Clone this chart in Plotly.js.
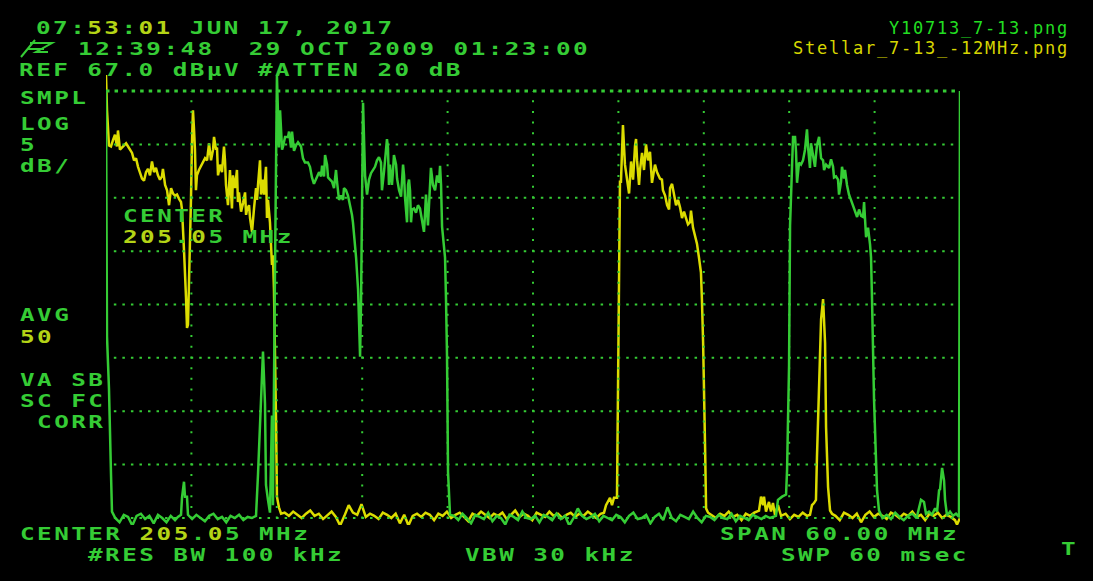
<!DOCTYPE html>
<html>
<head>
<meta charset="utf-8">
<script src="https://cdn.plot.ly/plotly-3.0.1.min.js"></script>
<style>
html,body{margin:0;padding:0;background:#000;}
#chart{width:1093px;height:581px;}
</style>
</head>
<body>
<div id="chart"></div>
<script>
// ---------- DATA (frequency MHz, level dBµV) ----------
const centerMHz = 205.05, spanMHz = 60, refLevel = 67.0, dbPerDiv = 5;
const xDivs = [181.05,187.05,193.05,199.05,205.05,211.05,217.05,223.05,229.05];
const yDivs = [62,57,52,47,42,37,32,27];

// Green trace (Y10713_7-13)
const greenEdge = [[175.05,67.0],[175.12,44.0],[175.26,39.1],[175.33,36.2],[175.40,31.2],[175.47,27.6]];
const greenNoise1 = [[175.7,27.0],[176.0,26.6],[176.3,27.3],[176.6,27.1],[176.9,26.3],[177.2,27.2],[177.5,27.4],[177.8,26.9],[178.1,27.2],[178.4,26.5],[178.7,27.3],[179.0,27.0],[179.3,26.6],[179.6,27.2],[179.9,26.8],[180.1,27.1]];
const greenBlip1 = [[180.32,27.3],[180.39,28.9],[180.53,30.4],[180.60,29.0],[180.74,29.0],[180.81,27.3]];
const greenNoise2 = [[181.1,26.9],[181.4,27.3],[181.7,27.0],[182.0,26.7],[182.3,27.2],[182.6,27.4],[182.9,26.9],[183.2,27.1],[183.5,26.6],[183.8,27.2],[184.1,27.0],[184.4,27.3],[184.7,26.8],[185.0,27.1],[185.3,27.0]];
const greenSpikes = [[185.59,27.2],[185.73,31.1],[185.94,38.7],[186.08,42.6],[186.22,37.7],[186.29,30.1],[186.43,28.7],[186.57,27.5],[186.71,36.6],[186.78,28.2],[186.92,50.0],[187.06,68.4],[187.20,61.7],[187.28,65.2],[187.42,61.5]];
const greenBandA = [[187.49,61.8],[187.63,62.7],[187.84,62.7],[187.91,63.2],[188.05,61.7],[188.12,63.2],[188.26,61.4],[188.40,61.9],[188.54,62.2],[188.75,61.8],[188.89,60.7],[189.03,60.3],[189.24,60.3],[189.38,59.9],[189.52,58.9],[189.66,58.3],[189.80,58.7],[190.02,59.4],[190.16,59.0],[190.23,60.0],[190.37,59.0],[190.44,61.0],[190.58,60.1],[190.65,58.9],[190.79,58.7],[190.93,58.5],[191.07,57.9],[191.21,59.6],[191.28,58.5],[191.42,56.8],[191.56,57.2],[191.70,56.8],[191.77,57.9],[191.91,57.7],[192.05,57.2],[192.19,56.4],[192.33,55.4],[192.40,54.7],[192.54,52.6],[192.62,51.4],[192.76,48.4],[192.83,44.6],[192.90,42.1],[192.97,47.4],[193.04,58.5],[193.11,65.9],[193.18,62.4],[193.25,59.1],[193.39,57.3],[193.53,58.7],[193.67,59.3],[193.81,59.6],[193.95,59.9],[194.09,60.5],[194.23,60.8],[194.37,60.3],[194.44,57.7],[194.58,59.4],[194.72,61.5],[194.79,62.5],[194.86,61.7],[194.93,58.2],[195.00,60.1],[195.14,58.2],[195.21,59.4],[195.28,61.0],[195.43,60.1],[195.50,58.8],[195.64,57.7],[195.78,57.1],[195.92,60.1],[195.99,59.1],[196.06,57.0],[196.20,54.7],[196.27,58.2],[196.34,58.7],[196.41,57.7],[196.48,54.7],[196.55,55.9],[196.69,56.0],[196.83,55.6],[196.97,56.3],[197.11,56.0],[197.25,54.9],[197.39,53.8],[197.46,55.4],[197.53,57.3],[197.67,54.4],[197.74,55.9],[197.88,59.8],[198.02,58.2],[198.17,57.7],[198.31,59.1],[198.45,58.4],[198.52,60.0],[198.59,58.2],[198.66,54.3],[198.80,52.6],[198.87,51.4],[198.94,47.4],[199.01,42.1],[199.08,31.3],[199.22,27.3]];
const greenNoise3 = [[199.5,27.2],[199.8,26.8],[200.1,27.4],[200.4,27.0],[200.7,26.5],[201.0,27.3],[201.3,27.1],[201.6,26.9],[201.9,27.5],[202.2,26.7],[202.5,27.2],[202.8,27.0],[203.1,26.4],[203.4,27.3],[203.7,27.1],[204.0,26.8],[204.3,27.6],[204.6,27.0],[204.9,26.9],[205.2,27.2],[205.5,26.6],[205.8,27.3],[206.1,27.1],[206.4,26.8],[206.7,27.4],[207.0,26.9],[207.3,27.2],[207.6,26.3],[207.9,27.0],[208.2,27.9],[208.5,27.2],[208.8,26.9],[209.1,27.1],[209.4,27.4],[209.7,26.7],[210.0,27.2],[210.3,27.0],[210.6,26.8],[210.9,27.3],[211.2,27.1],[211.5,26.6],[211.8,27.2],[212.1,27.5],[212.4,26.9],[212.7,27.0],[213.0,27.3],[213.3,26.5],[213.6,27.1],[213.9,27.4],[214.2,26.8],[214.5,28.0],[214.8,27.0],[215.1,26.7],[215.4,27.3],[215.7,27.1],[216.0,26.9],[216.3,27.6],[216.6,27.0],[216.9,26.6],[217.2,27.2],[217.5,27.1],[217.8,26.8],[218.1,27.3],[218.4,27.0],[218.7,26.9],[219.0,27.4],[219.3,26.7],[219.6,27.2],[219.9,27.0],[220.2,26.8],[220.5,27.3],[220.8,27.1],[221.1,26.9],[221.4,27.2],[221.7,27.0]];
const greenBandB = [[222.12,27.2],[222.26,28.7],[222.55,29.0],[222.83,29.2],[222.90,31.5],[223.04,41.3],[223.11,54.4],[223.25,61.3],[223.32,62.7],[223.46,62.7],[223.53,61.3],[223.60,58.4],[223.74,60.3],[223.88,60.1],[224.02,60.5],[224.16,61.5],[224.30,63.4],[224.37,61.8],[224.51,59.8],[224.58,62.1],[224.72,60.8],[224.86,59.9],[224.93,61.0],[225.00,61.9],[225.15,62.7],[225.29,60.7],[225.43,60.5],[225.50,59.6],[225.64,60.1],[225.85,59.8],[225.99,60.6],[226.13,59.9],[226.20,58.9],[226.34,59.0],[226.48,58.7],[226.55,57.3],[226.69,58.5],[226.76,59.9],[226.90,58.8],[226.97,59.6],[227.11,58.2],[227.25,57.3],[227.39,56.8],[227.53,56.3],[227.67,55.7],[227.82,55.2],[227.96,55.9],[228.10,55.3],[228.24,55.2],[228.31,56.6],[228.45,53.3],[228.59,54.2],[228.73,52.6],[228.80,51.4],[228.87,47.4],[229.01,38.1],[229.22,29.6],[229.36,27.7]];
const greenTail = [[229.6,27.0],[229.9,27.3],[230.2,26.9],[230.5,27.5],[230.8,27.1],[231.1,26.8],[231.4,27.2],[231.7,27.4],[232.0,27.0],[232.31,28.7],[232.52,28.5],[232.66,27.4],[232.87,27.6],[233.08,27.3],[233.30,27.9],[233.44,27.6],[233.58,29.6],[233.65,29.7],[233.79,31.7],[233.93,30.5],[234.00,28.7],[234.14,27.2],[234.35,27.6],[234.56,27.2],[234.77,27.4],[234.98,27.1],[235.05,67.0]];

// Yellow trace (Stellar_7-13_-12MHz)
const yellowBandA = [[175.05,68.5],[175.12,65.2],[175.26,61.9],[175.40,61.8],[175.54,62.4],[175.68,62.9],[175.82,61.8],[175.89,63.3],[176.03,61.5],[176.24,61.8],[176.46,62.1],[176.60,61.8],[176.74,61.5],[176.88,61.2],[177.02,60.5],[177.16,60.7],[177.30,59.9],[177.44,59.3],[177.58,58.8],[177.72,58.6],[177.86,59.4],[178.00,59.7],[178.14,59.1],[178.28,60.4],[178.42,59.4],[178.56,59.8],[178.70,59.1],[178.84,58.7],[178.98,59.0],[179.05,59.7],[179.20,58.2],[179.34,57.7],[179.48,56.3],[179.62,57.9],[179.76,57.4],[179.90,57.2],[180.04,57.3],[180.18,56.9],[180.32,56.6],[180.39,55.9],[180.46,54.4],[180.53,52.1],[180.67,47.7],[180.74,44.8],[180.81,45.1],[180.88,48.4],[180.95,53.2],[181.02,56.8],[181.09,62.2],[181.16,65.2],[181.23,63.5],[181.30,61.5],[181.37,57.7],[181.44,59.1],[181.58,59.6],[181.72,60.0],[181.86,60.4],[182.01,60.7],[182.15,60.5],[182.22,61.5],[182.29,62.1],[182.43,60.5],[182.57,61.5],[182.64,62.7],[182.78,61.5],[182.85,61.7],[182.92,59.1],[183.06,60.1],[183.20,59.4],[183.34,61.8],[183.41,60.5],[183.48,58.2],[183.62,56.3],[183.69,57.9],[183.76,59.6],[183.83,57.5],[183.90,56.0],[183.97,59.1],[184.11,57.9],[184.25,59.6],[184.32,56.6],[184.39,57.5],[184.54,55.7],[184.68,56.5],[184.82,57.5],[184.89,55.4],[184.96,55.9],[185.10,56.3],[185.17,55.1],[185.31,53.8],[185.38,55.4],[185.45,56.0],[185.59,57.9],[185.66,56.8],[185.73,58.2],[185.87,60.5],[185.94,57.3],[186.08,58.7],[186.15,57.3],[186.29,59.9],[186.36,55.1],[186.43,56.8],[186.57,54.7],[186.64,53.0],[186.71,50.7],[186.78,51.6],[186.85,48.5],[186.99,36.6],[187.06,29.0],[187.20,28.0],[187.35,27.4]];
const yellowNoise1 = [[187.6,27.5],[187.9,27.2],[188.2,27.6],[188.5,27.3],[188.8,27.0],[189.1,27.4],[189.4,27.7],[189.7,27.2],[190.0,27.4],[190.3,26.9],[190.6,27.3],[190.9,27.6],[191.2,27.1],[191.5,26.3],[191.8,27.2],[192.1,28.2],[192.4,27.5],[192.7,27.3],[193.0,28.3],[193.3,27.1],[193.6,27.4],[193.9,27.2],[194.2,26.9],[194.5,27.5],[194.8,27.3],[195.1,27.0],[195.4,27.4],[195.7,26.5],[196.0,27.3],[196.3,26.3],[196.6,27.2],[196.9,27.4],[197.2,27.1],[197.5,27.5],[197.8,27.3],[198.1,26.8],[198.4,27.4],[198.7,27.2],[199.0,27.6],[199.3,27.0],[199.6,27.3],[199.9,27.5],[200.2,27.1],[200.5,26.7],[200.8,27.4],[201.1,27.2],[201.4,27.6],[201.7,27.3],[202.0,27.0],[202.3,27.4],[202.6,27.2],[202.9,27.5],[203.2,26.9],[203.5,27.3],[203.8,27.7],[204.1,27.1],[204.4,27.4],[204.7,27.2],[205.0,26.8],[205.3,27.5],[205.6,27.3],[205.9,27.1],[206.2,27.6],[206.5,27.2],[206.8,27.4],[207.1,27.0],[207.4,27.3],[207.7,27.5],[208.0,27.1],[208.3,27.4],[208.6,27.2],[208.9,27.6],[209.2,27.3],[209.5,27.0],[209.8,27.4]];
const yellowBandB = [[210.04,27.5],[210.18,28.2],[210.32,28.5],[210.46,28.9],[210.60,28.2],[210.74,28.9],[210.95,28.9],[211.16,58.5],[211.23,58.5],[211.37,63.8],[211.44,61.9],[211.51,60.1],[211.66,58.7],[211.80,57.4],[211.94,60.4],[212.08,58.7],[212.22,61.9],[212.29,62.5],[212.36,60.5],[212.50,58.2],[212.57,59.6],[212.71,61.2],[212.85,59.6],[212.99,62.0],[213.13,60.5],[213.27,61.3],[213.41,58.4],[213.48,59.1],[213.62,60.1],[213.76,59.4],[213.97,58.8],[214.11,58.7],[214.18,57.7],[214.33,57.2],[214.47,56.3],[214.61,55.9],[214.68,57.9],[214.82,58.3],[214.96,57.4],[215.10,56.3],[215.24,56.8],[215.38,56.1],[215.52,55.1],[215.66,55.7],[215.80,55.1],[215.94,54.5],[216.08,54.7],[216.15,55.8],[216.29,54.2],[216.43,53.4],[216.57,52.7],[216.71,51.4],[216.85,50.0],[216.92,47.4],[217.00,43.5],[217.14,33.6],[217.21,27.9],[217.35,27.5]];
const yellowNoise2 = [[217.6,27.3],[217.9,27.0],[218.2,27.4],[218.5,27.2],[218.8,27.6],[219.1,27.1],[219.4,27.3],[219.7,26.8],[220.0,27.4],[220.3,27.2],[220.6,27.5],[220.93,27.7],[221.07,29.0],[221.21,28.2],[221.28,29.0],[221.42,27.6],[221.63,28.5],[221.77,27.6],[221.91,28.4],[222.05,27.3],[222.26,28.2],[222.48,27.2],[222.8,27.4],[223.1,26.9],[223.4,27.3],[223.7,27.1],[224.0,27.5],[224.3,27.2]];
const yellowCarrier = [[224.51,27.3],[224.65,28.2],[224.79,28.4],[224.93,28.7],[225.00,32.7],[225.15,39.6],[225.29,45.6],[225.43,47.5],[225.57,43.4],[225.64,35.5],[225.78,29.9],[225.92,27.7],[226.06,27.4]];
const yellowTail = [[226.3,27.2],[226.6,26.8],[226.9,27.5],[227.2,27.3],[227.5,27.0],[227.8,27.4],[228.1,26.6],[228.4,27.3],[228.7,27.6],[229.0,27.1],[229.3,27.4],[229.6,27.2],[229.9,26.9],[230.2,27.5],[230.5,27.3],[230.8,27.0],[231.1,27.4],[231.4,27.2],[231.7,27.6],[232.0,27.1],[232.3,27.3],[232.6,26.8],[232.9,27.4],[233.2,27.2],[233.5,27.5],[233.8,27.0],[234.1,27.3],[234.4,27.1],[234.70,26.8],[234.84,26.4],[235.05,27.0]];

// Screen texts (characters where both screenshots overlap are listed in "mixed")
const screenTexts = [
  {t:'07:53:01 JUN 17, 2017',            x:38,  y:27.3,  mixed:[3,4,6,7]},
  {t:'12:39:48  29 OCT 2009 01:23:00',   x:80,  y:48.5},
  {t:'REF 67.0 dBµV #ATTEN 20 dB',       x:21,  y:69.8},
  {t:'SMPL',                              x:22,  y:97.5},
  {t:'LOG',                               x:22,  y:123.3},
  {t:'5',                                 x:22,  y:144.5},
  {t:'dB/',                               x:22,  y:165.7},
  {t:'CENTER',                            x:125, y:215.3},
  {t:'205.05 MHz',                        x:125, y:236.5, mixed:[0,1,2,4]},
  {t:'AVG',                               x:22,  y:314.9},
  {t:'50',                                x:22,  y:336.1, mixed:[0,1]},
  {t:'VA SB',                             x:22,  y:379.2},
  {t:'SC FC',                             x:22,  y:400.4},
  {t:' CORR',                             x:22,  y:421.6},
  {t:'CENTER 205.05 MHz',                 x:22,  y:533.2, mixed:[7,8,9,11]},
  {t:'#RES BW 100 kHz',                   x:90,  y:554.4},
  {t:'VBW 30 kHz',                        x:467, y:554.4},
  {t:'SPAN 60.00 MHz',                    x:722, y:533.2},
  {t:'SWP 60 msec',                       x:783, y:554.4},
  {t:'T',                                 x:1063,y:548}
];
const fileGreen = 'Y10713_7-13.png';
const fileYellow = 'Stellar_7-13_-12MHz.png';

// ---------- DRAWING ----------
const GREEN = '#35cc35', YELLOW = '#dcdc00', MIX = '#b4d416';
const L = 106, Rr = 960, T = 74, B = 525, W = 1093, H = 581;
const px = x => (x - L) / (Rr - L);
const py = y => (B - y) / (B - T);
const dbPerPx = dbPerDiv / ((518 - 91) / 8);
const yTop = refLevel + (91 - T) * dbPerPx;
const yBot = refLevel - (B - 91) * dbPerPx;

function join(...segs){ const a = [].concat(...segs); return {x: a.map(p=>p[0]), y: a.map(p=>p[1])}; }
const gData = join(greenEdge, greenNoise1, greenBlip1, greenNoise2, greenSpikes, greenBandA, greenNoise3, greenBandB, greenTail);
const yData = join(yellowBandA, yellowNoise1, yellowBandB, yellowNoise2, yellowCarrier, yellowTail);

const traces = [
  {type:'scatter', mode:'lines', x:yData.x, y:yData.y, line:{color:YELLOW, width:2.5}, hoverinfo:'skip', showlegend:false},
  {type:'scatter', mode:'lines', x:gData.x, y:gData.y, line:{color:GREEN, width:2.5}, hoverinfo:'skip', showlegend:false}
];

const x0 = centerMHz - spanMHz/2, x1 = centerMHz + spanMHz/2;
const shapes = [];
shapes.push({type:'line', layer:'above', x0:x0, x1:x1, y0:refLevel, y1:refLevel, line:{color:GREEN, width:3, dash:'3.5px,5.04px'}});
yDivs.forEach(v => shapes.push({type:'line', layer:'above', x0:x0+0.55, x1:x1, y0:v, y1:v, line:{color:GREEN, width:2, dash:'2.5px,6.04px'}}));
xDivs.forEach(v => shapes.push({type:'line', layer:'above', x0:v, x1:v, y0:yBot+0.6, y1:refLevel, line:{color:GREEN, width:2, dash:'2px,8.675px'}}));
shapes.push({type:'path', xref:'paper', yref:'paper', layer:'above',
  path:`M ${px(21)} ${py(57)} L ${px(35)} ${py(40)} M ${px(30)} ${py(43)} L ${px(52)} ${py(43)} L ${px(36)} ${py(52)} L ${px(48)} ${py(52)} M ${px(27)} ${py(49)} L ${px(44)} ${py(49)}`,
  line:{color:GREEN, width:2}});

const FS = 18, SCALE_X = 1.35;
const LS = (17.07 / SCALE_X - 0.602 * FS).toFixed(2);
function span(s, mixed){ return '<span style="letter-spacing:' + LS + 'px;color:' + (mixed ? MIX : GREEN) + '">' + s.replace(/ /g, '\u00a0') + '</span>'; }
function pix(s, mixed){
  mixed = mixed || [];
  let out = '', run = '', cur = null;
  for (let i = 0; i < s.length; i++) {
    const m = mixed.indexOf(i) >= 0;
    if (cur !== null && m !== cur) { out += span(run, cur); run = ''; }
    run += s[i]; cur = m;
  }
  return out + span(run, cur);
}
const ann = screenTexts.map(o => ({xref:'paper', yref:'paper', x:px(o.x - 2), y:py(o.y), xanchor:'left', yanchor:'middle',
  showarrow:false, borderpad:0, borderwidth:0, text:pix(o.t, o.mixed),
  font:{family:'DejaVu Sans Mono', size:FS, color:GREEN, weight:'bold'}}));
ann.push({xref:'paper', yref:'paper', x:px(1069), y:py(28.2), xanchor:'right', yanchor:'middle', showarrow:false, borderpad:0, borderwidth:0,
  text:'<span style="letter-spacing:1.77px">' + fileGreen + '</span>', font:{family:'DejaVu Sans Mono', size:17, color:'#22dd22'}});
ann.push({xref:'paper', yref:'paper', x:px(1069), y:py(48.3), xanchor:'right', yanchor:'middle', showarrow:false, borderpad:0, borderwidth:0,
  text:'<span style="letter-spacing:1.77px">' + fileYellow + '</span>', font:{family:'DejaVu Sans Mono', size:17, color:'#d6d600'}});

const layout = {
  width:W, height:H,
  margin:{l:L, r:W-Rr, t:T, b:H-B, pad:0},
  paper_bgcolor:'#000', plot_bgcolor:'#000',
  showlegend:false,
  xaxis:{range:[x0, x1], showgrid:false, zeroline:false, showticklabels:false, showline:false, ticks:'', fixedrange:true},
  yaxis:{range:[yBot, yTop], showgrid:false, zeroline:false, showticklabels:false, showline:false, ticks:'', fixedrange:true},
  shapes:shapes,
  annotations:ann
};
Plotly.newPlot('chart', traces, layout, {displayModeBar:false, staticPlot:true}).then(() => {
  // widen the pixel-font glyphs horizontally (screen font of the analyser), keeping each left edge fixed
  document.querySelectorAll('#chart text.annotation-text').forEach(t => {
    if ((t.style.fontFamily || '').indexOf('DejaVu') < 0 || t.textContent.indexOf('.png') >= 0) return;
    const bb = t.getBBox();
    t.setAttribute('transform', `translate(${bb.x},0) scale(${SCALE_X},1) translate(${-bb.x},0)`);
  });
});
</script>
</body>
</html>
